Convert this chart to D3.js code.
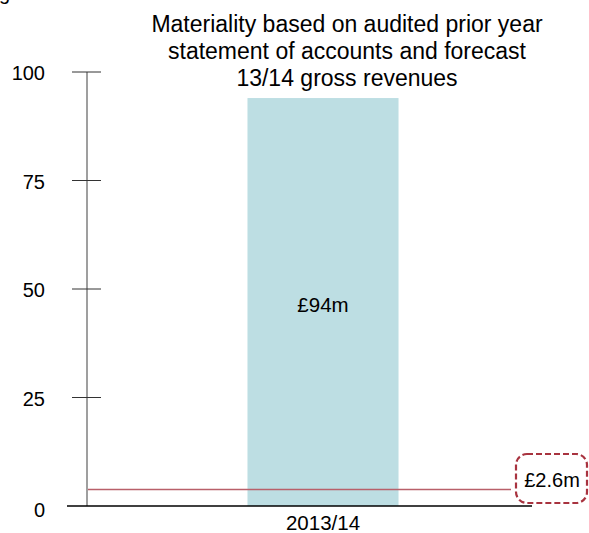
<!DOCTYPE html>
<html>
<head>
<meta charset="utf-8">
<script src="https://cdn.jsdelivr.net/npm/d3@7"></script>
<style>
  body { margin: 0; background: #fff; }
  text { font-family: "Liberation Sans", Arial, sans-serif; fill: #000; }
</style>
</head>
<body>
<script>
//Width and height
var w = 589;
var h = 533;

//chart data
var categories = ["2013/14"];
var values = [94];
var valueLabels = ["£94m"];
var yTicks = [0, 25, 50, 75, 100];
var thresholdValue = [3.8];
var thresholdLabel = ["£2.6m"];
var titleLines = ["Materiality based on audited prior year",
                  "statement of accounts and forecast",
                  "13/14 gross revenues"];

var svg = d3.select("body")
            .append("svg")
            .attr("width", w)
            .attr("height", h);

//scales
var y = d3.scaleLinear().domain([0, 100]).range([506, 72]);
var x = d3.scaleBand().domain(categories).range([87, 559]).paddingInner(0.68).paddingOuter(0.34);

//clipped text at very top (cut off in the original)
svg.append("text")
   .attr("x", -1)
   .attr("y", 0)
   .style("font-size", "20px")
   .text("get's ra e o");

//title
svg.selectAll("text.title")
   .data(titleLines)
   .enter()
   .append("text")
   .attr("class", "title")
   .attr("x", 347)
   .attr("y", function(d, i) { return 31.5 + i * 27.3; })
   .attr("text-anchor", "middle")
   .style("font-size", "23px")
   .text(function(d) { return d; });

//bars
svg.selectAll("rect.bar")
   .data(values)
   .enter()
   .append("rect")
   .attr("class", "bar")
   .attr("x", function(d, i) { return x(categories[i]); })
   .attr("width", x.bandwidth())
   .attr("y", function(d) { return y(d); })
   .attr("height", function(d) { return y(0) - y(d); })
   .style("fill", "#bddee3");

svg.selectAll("text.barlabel")
   .data(values)
   .enter()
   .append("text")
   .attr("class", "barlabel")
   .attr("x", function(d, i) { return x(categories[i]) + x.bandwidth() / 2; })
   .attr("y", function(d) { return (y(d) + y(0)) / 2 + 10; })
   .attr("text-anchor", "middle")
   .style("font-size", "20.5px")
   .text(function(d, i) { return valueLabels[i]; });

//y axis
var yAxis = d3.axisLeft(y).tickValues(yTicks).tickSize(0).tickPadding(42);
var gy = svg.append("g")
   .attr("transform", "translate(87,0)")
   .call(yAxis);
gy.select(".domain").remove();
gy.selectAll("text")
   .style("font-size", "20px")
   .attr("font-family", null)
   .attr("dy", function(d) { return d === 0 ? "0.5em" : "0.38em"; });

svg.append("line")
   .attr("x1", 87).attr("x2", 87)
   .attr("y1", y(100)).attr("y2", y(0))
   .style("stroke", "#7f7f7f")
   .style("stroke-width", 1.5);

svg.selectAll("line.tick")
   .data(yTicks.filter(function(d) { return d > 0; }))
   .enter()
   .append("line")
   .attr("class", "tick")
   .attr("x1", 72).attr("x2", 101)
   .attr("y1", function(d) { return y(d); })
   .attr("y2", function(d) { return y(d); })
   .style("stroke", "#333")
   .style("stroke-width", 1);

//threshold line
svg.selectAll("line.threshold")
   .data(thresholdValue)
   .enter()
   .append("line")
   .attr("class", "threshold")
   .attr("x1", 88).attr("x2", 511)
   .attr("y1", function(d) { return y(d); })
   .attr("y2", function(d) { return y(d); })
   .style("stroke", "#b9606a")
   .style("stroke-width", 1.3);

//x axis
var xAxis = d3.axisBottom(x).tickSize(0).tickPadding(9);
var gx = svg.append("g")
   .attr("transform", "translate(0," + y(0) + ")")
   .call(xAxis);
gx.select(".domain").remove();
gx.selectAll("text")
   .style("font-size", "20.5px")
   .attr("font-family", null);

svg.append("line")
   .attr("x1", 67).attr("x2", 532)
   .attr("y1", y(0)).attr("y2", y(0))
   .style("stroke", "#000")
   .style("stroke-width", 1.5);

//callout box
svg.append("rect")
   .attr("x", 516).attr("y", 454)
   .attr("width", 71).attr("height", 49)
   .attr("rx", 11).attr("ry", 11)
   .style("fill", "none")
   .style("stroke", "#a8333f")
   .style("stroke-width", 2.2)
   .style("stroke-dasharray", "6,3");

svg.append("text")
   .attr("x", 552)
   .attr("y", 487)
   .attr("text-anchor", "middle")
   .style("font-size", "20px")
   .text(thresholdLabel[0]);
</script>
</body>
</html>
